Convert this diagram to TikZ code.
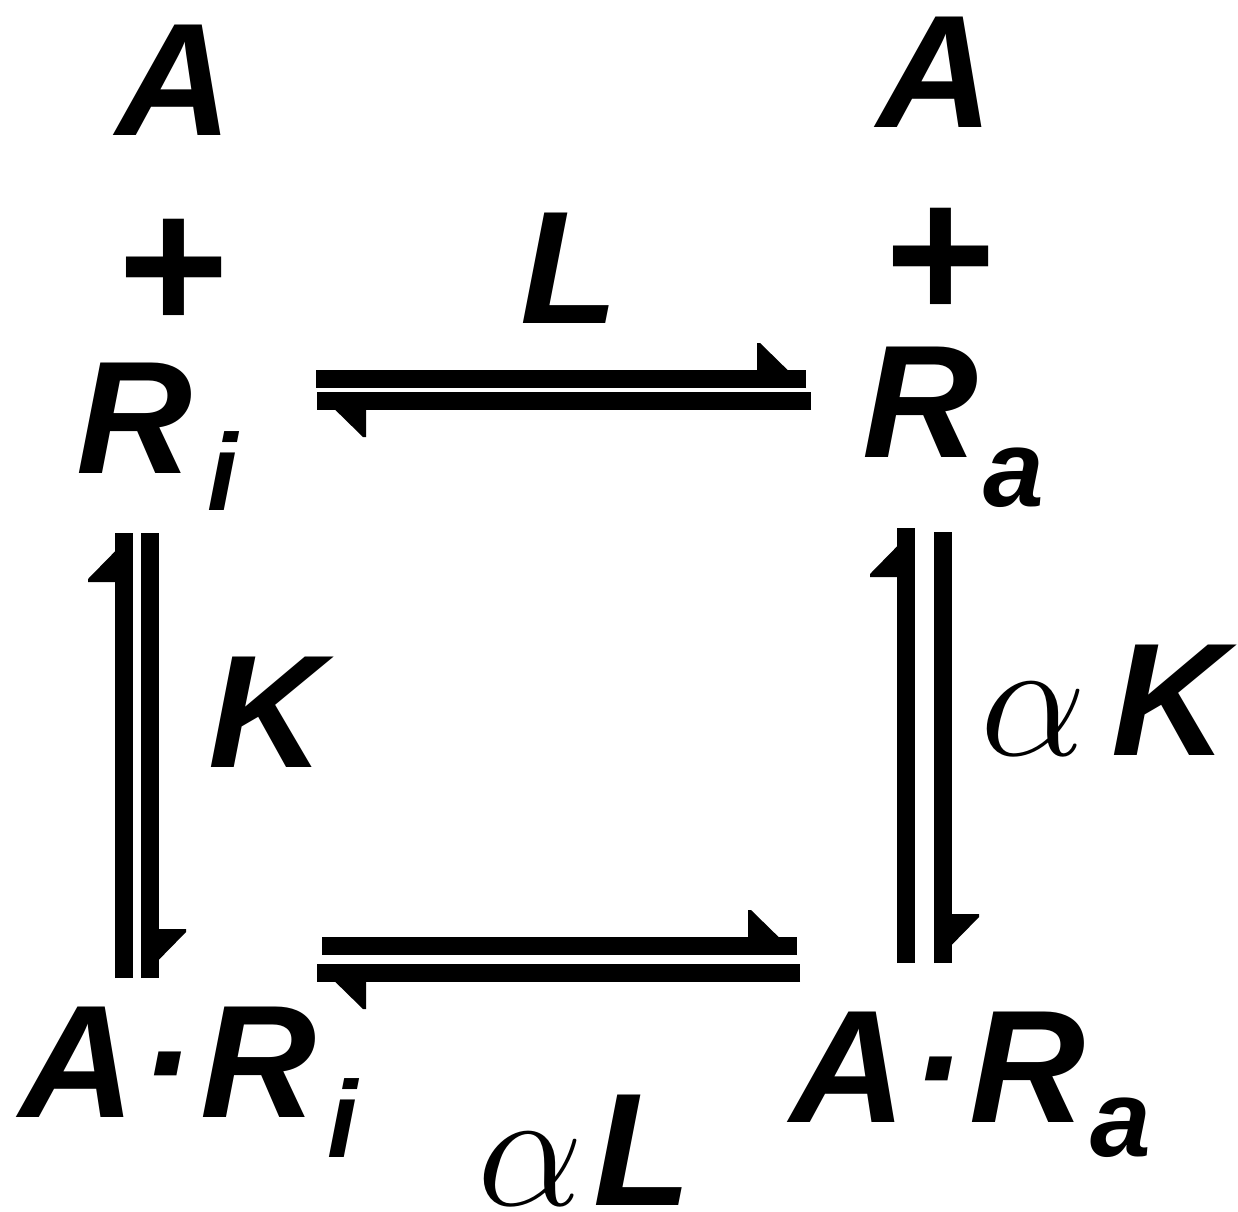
\RequirePackage{fix-cm}
\documentclass[tikz,border=0pt]{standalone}
\usepackage{fontspec}
\setmainfont{Liberation Sans}
\usetikzlibrary{calc, decorations.markings}

% lowered index, smaller size
\newcommand{\lowidx}[2][3.8mm]{\raisebox{-#1}{\fontsize{31pt}{31pt}\selectfont #2}}
% greek factor in front of a rate
\newcommand{\fac}{{\fontsize{48pt}{48pt}\selectfont$\alpha$}}

\begin{document}
\begin{tikzpicture}[
    x=0.1mm, y=-0.1mm,
    species/.style={inner sep=0pt, anchor=base west, font=\fontsize{45.7pt}{50pt}\selectfont\bfseries\itshape},
    plus/.style={species, font=\fontsize{54pt}{56pt}\selectfont\bfseries},
    rate/.style={species},
    harp/.style={line width=1.8mm, postaction={decorate},
      decoration={markings, mark=at position 1 with
        {\fill (0,-0.9mm) -- (-4.6mm,3.6mm) -- (-4.9mm,3.6mm) -- (-4.9mm,0) -- cycle;}}}
]
\useasboundingbox (0,0) rectangle (1238,1211);

% free receptor, inactive and active
\node[species] (Ai) at (116,135) {A};
\node[plus] (Pi) at (118,330) {+};
\node[species] (Ri) at (76,473) {R\kern1.5mm\lowidx[3.7mm]{i}};
\node[species] (Aa) at (877,127) {A};
\node[plus] (Pa) at (885,319) {+};
\node[species] (Ra) at (862,457) {R\kern0.5mm\lowidx[4.9mm]{a}};

% bound receptor
\node[species] (ARi) at (19,1117) {A\kern0.4mm·\kern0.7mm R\kern1.1mm\lowidx[4mm]{i}};
\node[species] (ARa) at (790,1122) {A\kern0.4mm·\kern0.5mm R\kern0.5mm\lowidx[3.4mm]{a}};

% rate constants
\node[rate] (L) at (520,323) {L};
\node[rate] (K) at (208,767) {K};
\node[rate] (aK) at (980,755) {\fac\kern2.5mm K};
\node[rate] (aL) at (477,1205) {\fac\kern1mm L};

% top equilibrium
\draw[harp] ($(Ri.base west)+(240,-94)$) -- ($(Ra.base west)+(-56,-78)$);
\draw[harp] ($(Ra.base west)+(-51,-56)$) -- ($(Ri.base west)+(241,-72)$);
% left equilibrium
\draw[harp] ($(ARi.base west)+(105,-139)$) -- ($(Ri.base west)+(48,60)$);
\draw[harp] ($(Ri.base west)+(74,60)$) -- ($(ARi.base west)+(131,-139)$);
% right equilibrium
\draw[harp] ($(ARa.base west)+(116,-159)$) -- ($(Ra.base west)+(44,71)$);
\draw[harp] ($(Ra.base west)+(81,75)$) -- ($(ARa.base west)+(153,-159)$);
% bottom equilibrium
\draw[harp] ($(ARi.base west)+(303,-171)$) -- ($(ARa.base west)+(7,-176)$);
\draw[harp] ($(ARa.base west)+(10,-149)$) -- ($(ARi.base west)+(298,-144)$);

\end{tikzpicture}
\end{document}
